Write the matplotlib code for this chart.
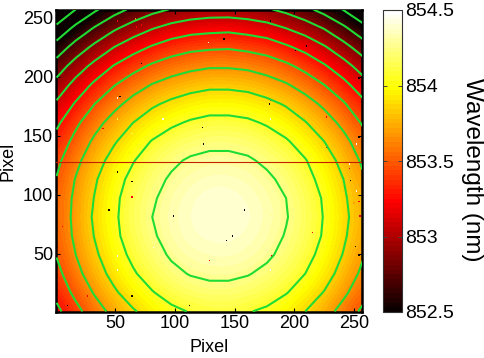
import numpy as np
import matplotlib
matplotlib.use("Agg")
import matplotlib.pyplot as plt

plt.rcParams['font.family'] = ['Liberation Sans', 'DejaVu Sans']

# wavelength (nm) on a coarse pixel grid
grid_x = [1, 17, 33, 49, 65, 81, 97, 113, 129, 145, 161, 177, 193, 209, 225, 241, 257]
grid_y = [1, 17, 33, 49, 65, 81, 97, 113, 129, 145, 161, 177, 193, 209, 225, 241, 257]
wavelength = np.array([
    [853.25, 853.44, 853.61, 853.76, 853.88, 853.98, 854.06, 854.11, 854.13, 854.14, 854.11, 854.07, 853.99, 853.90, 853.78, 853.63, 853.46],
    [853.36, 853.55, 853.72, 853.87, 854.00, 854.09, 854.17, 854.22, 854.25, 854.25, 854.22, 854.18, 854.11, 854.01, 853.89, 853.74, 853.58],
    [853.44, 853.64, 853.81, 853.96, 854.08, 854.18, 854.26, 854.31, 854.33, 854.33, 854.31, 854.26, 854.19, 854.10, 853.98, 853.83, 853.66],
    [853.51, 853.70, 853.87, 854.02, 854.14, 854.24, 854.32, 854.37, 854.39, 854.40, 854.37, 854.33, 854.25, 854.16, 854.04, 853.89, 853.72],
    [853.54, 853.74, 853.91, 854.06, 854.18, 854.28, 854.36, 854.41, 854.43, 854.43, 854.41, 854.36, 854.29, 854.20, 854.08, 853.93, 853.76],
    [853.56, 853.75, 853.93, 854.07, 854.20, 854.30, 854.37, 854.42, 854.45, 854.45, 854.43, 854.38, 854.31, 854.21, 854.09, 853.95, 853.78],
    [853.55, 853.74, 853.91, 854.06, 854.19, 854.28, 854.36, 854.41, 854.44, 854.44, 854.41, 854.37, 854.30, 854.20, 854.08, 853.93, 853.77],
    [853.51, 853.71, 853.88, 854.03, 854.15, 854.25, 854.32, 854.37, 854.40, 854.40, 854.38, 854.33, 854.26, 854.16, 854.04, 853.90, 853.73],
    [853.45, 853.65, 853.82, 853.97, 854.09, 854.19, 854.27, 854.32, 854.34, 854.34, 854.32, 854.27, 854.20, 854.11, 853.99, 853.84, 853.67],
    [853.37, 853.56, 853.74, 853.88, 854.01, 854.11, 854.18, 854.23, 854.26, 854.26, 854.24, 854.19, 854.12, 854.02, 853.90, 853.76, 853.59],
    [853.26, 853.46, 853.63, 853.78, 853.90, 854.00, 854.07, 854.12, 854.15, 854.15, 854.13, 854.08, 854.01, 853.91, 853.79, 853.65, 853.48],
    [853.13, 853.32, 853.50, 853.64, 853.77, 853.87, 853.94, 853.99, 854.02, 854.02, 854.00, 853.95, 853.88, 853.78, 853.66, 853.52, 853.35],
    [852.97, 853.17, 853.34, 853.49, 853.61, 853.71, 853.78, 853.83, 853.86, 853.86, 853.84, 853.79, 853.72, 853.62, 853.50, 853.36, 853.19],
    [852.79, 852.99, 853.16, 853.31, 853.43, 853.53, 853.60, 853.65, 853.68, 853.68, 853.66, 853.61, 853.54, 853.44, 853.32, 853.18, 853.01],
    [852.58, 852.78, 852.95, 853.10, 853.22, 853.32, 853.40, 853.45, 853.47, 853.48, 853.45, 853.41, 853.33, 853.24, 853.12, 852.97, 852.80],
    [852.35, 852.55, 852.72, 852.87, 852.99, 853.09, 853.17, 853.22, 853.24, 853.25, 853.22, 853.18, 853.10, 853.01, 852.89, 852.74, 852.57],
    [852.10, 852.30, 852.47, 852.62, 852.74, 852.84, 852.91, 852.96, 852.99, 852.99, 852.97, 852.92, 852.85, 852.75, 852.63, 852.49, 852.32],
])

contour_levels = [852.3, 852.5, 852.7, 852.9, 853.1, 853.3, 853.5, 853.7, 853.9, 854.1, 854.3]

# bad pixels
bad_x = [52, 67, 68, 72, 72, 128, 141, 52, 52, 54, 52, 123, 124, 52, 40, 64, 90,
         180, 210, 201, 179, 180, 180, 227, 227, 254, 254, 252, 246, 246,
         64, 64, 45, 99, 148, 143, 129, 82, 52, 52, 64, 27, 10, 112, 6,
         158, 215, 180, 181, 180, 251, 254, 252, 254, 255, 250, 247]
bad_y = [247, 249, 242, 244, 211, 229, 232, 177, 182, 183, 164, 157, 143, 119, 156, 152, 164,
         247, 226, 222, 177, 180, 164, 166, 140, 199, 149, 143, 126, 122,
         111, 98, 87, 82, 65, 61, 44, 55, 48, 36, 14, 14, 6, 6, 73,
         87, 68, 83, 48, 36, 56, 49, 103, 94, 82, 93, 112]
bad_val = [853.2, 853.7, 853.2, 853.2, 852.5, 854.5, 852.5, 853.7, 854.5, 852.5, 854.1, 852.5, 852.5, 852.5, 853.2, 854.1, 854.5,
           852.5, 852.5, 852.5, 852.5, 853.2, 854.5, 853.2, 853.2, 852.5, 852.5, 854.5, 854.5, 853.2,
           852.5, 853.2, 852.5, 852.5, 852.5, 852.5, 853.2, 854.5, 854.5, 854.5, 852.5, 853.2, 852.5, 852.5, 853.2,
           852.5, 853.2, 854.1, 853.2, 854.5, 852.5, 852.5, 854.5, 853.2, 853.2, 853.7, 852.5]

line_y = 128
ticks = [50, 100, 150, 200, 250]
cbar_ticks = [852.5, 853, 853.5, 854, 854.5]
cbar_labels = ['852.5', '853', '853.5', '854', '854.5']

W, H = 485, 358
fig = plt.figure(figsize=(W / 100, H / 100), dpi=100)
ax = fig.add_axes([56 / W, 1 - 312 / H, 306 / W, 302 / H])
cax = fig.add_axes([383 / W, 1 - 312 / H, 19 / W, 302 / H])

cmap = plt.get_cmap('hot', 64)
# colours in the picture sit a touch below the contour levels
im = ax.imshow(wavelength - 0.04, origin='lower', extent=(-7, 265, -7, 265), aspect='auto',
               cmap=cmap, vmin=852.5, vmax=854.5, interpolation='bicubic',
               interpolation_stage='data')
ax.scatter(bad_x, bad_y, c=bad_val, cmap=cmap, vmin=852.5, vmax=854.5, marker='s', s=1.2,
           linewidths=0, zorder=2)
ax.contour(grid_x, grid_y, wavelength, levels=contour_levels, colors='#1fdc35',
           linewidths=1.5, zorder=3)
ax.plot([0.5, 256.5], [line_y, line_y], color='#c42000', lw=0.8, zorder=4)

ax.set_xlim(0.5, 256.5)
ax.set_ylim(0.5, 256.5)
ax.set_xticks(ticks)
ax.set_yticks(ticks)
ax.tick_params(direction='in', length=3, width=0.8, labelsize=13, pad=2,
               top=True, right=True)
for s in ax.spines.values():
    s.set_linewidth(1.8)
ax.set_xlabel('Pixel', fontsize=13, labelpad=5)
ax.set_ylabel('Pixel', fontsize=13, labelpad=5)

cb = fig.colorbar(im, cax=cax)
cb.set_ticks(cbar_ticks)
cb.set_ticklabels(cbar_labels)
cax.tick_params(direction='in', length=3, width=0.7, color='#444444', labelsize=14, pad=2,
                left=True, right=True)
cb.outline.set_linewidth(0.8)
cb.outline.set_edgecolor('#333333')
cb.set_label('Wavelength (nm)', rotation=270, fontsize=17.5)
cax.yaxis.set_label_coords(5.28, 0.47)

fig.savefig('out.png', dpi=100)
